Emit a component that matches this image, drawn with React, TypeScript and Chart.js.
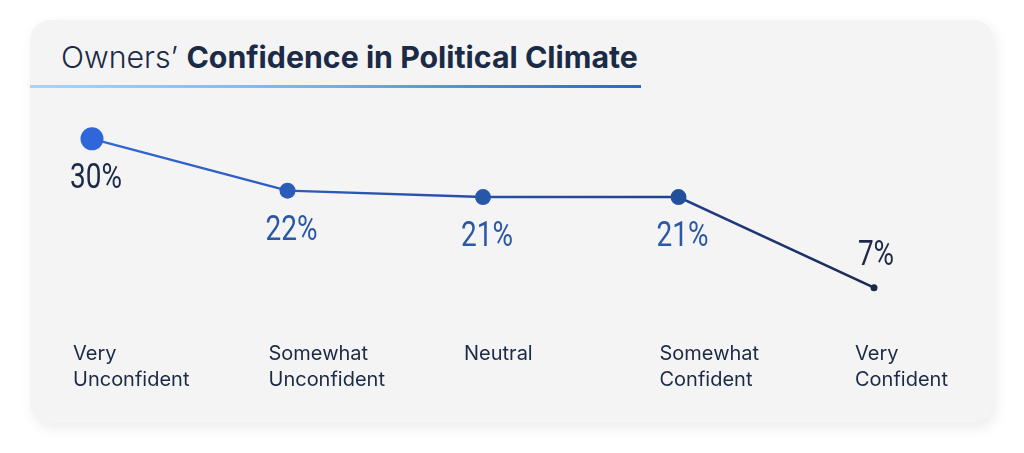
import React, { useEffect, useRef } from "react";
import { Chart, registerables } from "chart.js";

Chart.register(...registerables);

const categories: string[][] = [
  ["Very", "Unconfident"],
  ["Somewhat", "Unconfident"],
  ["Neutral"],
  ["Somewhat", "Confident"],
  ["Very", "Confident"],
];
const values: number[] = [30, 22, 21, 21, 7];
const valueLabels: string[] = ["30%", "22%", "21%", "21%", "7%"];
const pointColors: string[] = ["#2f66d8", "#2a5cb8", "#2757a8", "#23509c", "#1b2a48"];
const pointRadii: number[] = [11.5, 8, 8, 8, 3.5];
const labelColors: string[] = ["#1c2a45", "#2a58a6", "#2a58a6", "#2a58a6", "#1c2a45"];
const labelBelow: boolean[] = [true, true, true, true, false];

const valueLabelPlugin = {
  id: "valueLabels",
  afterDatasetsDraw(chart: any) {
    const ctx = chart.ctx as CanvasRenderingContext2D;
    const meta = chart.getDatasetMeta(0);
    meta.data.forEach((pt: any, i: number) => {
      ctx.save();
      ctx.font = '35px Roboto, "Noto Sans", sans-serif';
      ctx.textAlign = "center";
      ctx.textBaseline = "alphabetic";
      ctx.fillStyle = labelColors[i];
      const x = labelBelow[i] ? pt.x + 4 : pt.x + 2;
      const y = labelBelow[i] ? pt.y + 49 : pt.y - 23;
      ctx.translate(x, y);
      ctx.scale(0.8, 1);
      ctx.fillText(valueLabels[i], 0, 0);
      ctx.restore();
    });
  },
};

function ChartView() {
  const ref = useRef<HTMLCanvasElement | null>(null);
  useEffect(() => {
    if (!ref.current) return;
    const chart = new Chart(ref.current, {
      type: "line",
      data: {
        labels: categories,
        datasets: [
          {
            data: values,
            borderWidth: 2.5,
            borderColor: (c: any) => {
              const area = c.chart.chartArea;
              if (!area) return "#2f62d4";
              const g = c.chart.ctx.createLinearGradient(area.left, 0, area.right, 0);
              g.addColorStop(0, "#3168db");
              g.addColorStop(0.3, "#2c58b8");
              g.addColorStop(0.75, "#233f8c");
              g.addColorStop(1, "#1a2850");
              return g;
            },
            pointBackgroundColor: pointColors,
            pointBorderWidth: 0,
            pointRadius: pointRadii,
            pointHoverRadius: pointRadii,
            tension: 0,
            clip: false as any,
          },
        ],
      },
      options: {
        animation: false,
        responsive: true,
        maintainAspectRatio: false,
        layout: { padding: { top: 10, left: 62, right: 119, bottom: 0 } },
        plugins: {
          legend: { display: false },
          tooltip: { enabled: false },
          title: { display: false },
        },
        scales: {
          x: {
            offset: false,
            grid: { display: false, drawTicks: false },
            border: { display: false },
            ticks: {
              align: "start",
              labelOffset: -19,
              padding: 7.5,
              color: "#1c2a45",
              font: { family: "Inter", size: 20, weight: "normal", lineHeight: 1.3 },
              autoSkip: false,
              maxRotation: 0,
            },
          },
          y: {
            display: false,
            min: 0,
            max: 35,
          },
        },
      },
      plugins: [valueLabelPlugin],
    });
    return () => chart.destroy();
  }, []);
  return <canvas ref={ref} />;
}

export default function App() {
  return (
    <div>
      <div
        style={{
          position: "absolute",
          left: 30,
          top: 20,
          width: 963,
          height: 403,
          background: "#f4f4f4",
          borderRadius: 20,
          boxShadow: "3px 5px 14px rgba(0,0,0,0.08)",
        }}
      />
      <div
        style={{
          position: "absolute",
          left: 61,
          top: 43,
          fontFamily: "Inter, sans-serif",
          fontSize: 30.3,
          lineHeight: "28px",
          color: "#1b2a45",
          whiteSpace: "nowrap",
        }}
      >
        <span style={{ fontWeight: 300 }}>Owners’ </span>
        <span style={{ fontWeight: 700 }}>Confidence in Political Climate</span>
      </div>
      <div
        style={{
          position: "absolute",
          left: 30,
          top: 85,
          width: 611,
          height: 3,
          background: "linear-gradient(90deg, #a9d5f6 0%, #7fb0ec 45%, #2f62d4 100%)",
        }}
      />
      <div style={{ position: "absolute", left: 30, top: 95, width: 963, height: 305 }}>
        <ChartView />
      </div>
    </div>
  );
}
